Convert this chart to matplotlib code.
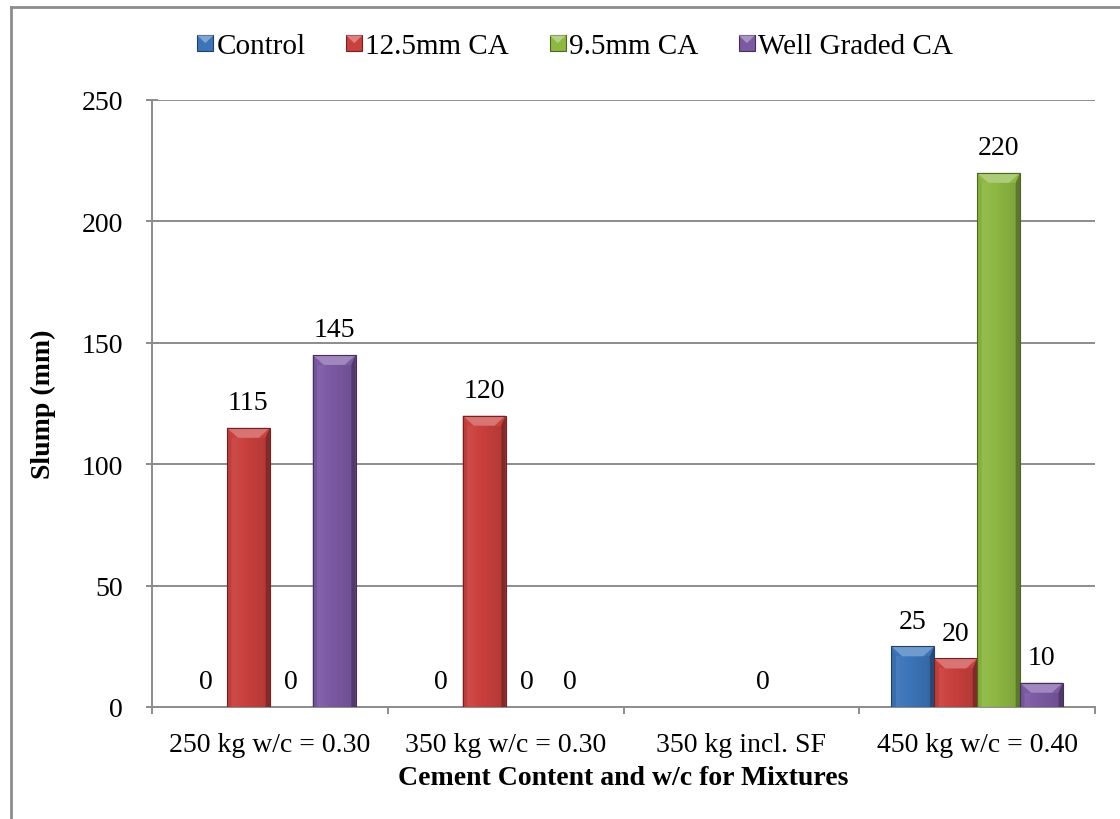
import numpy as np
import matplotlib
matplotlib.use("Agg")
import matplotlib.pyplot as plt
from matplotlib.patches import Polygon, Rectangle, Patch
from matplotlib.lines import Line2D
from matplotlib.legend_handler import HandlerPatch
from matplotlib import colors as mcolors

plt.rcParams['font.family'] = ['Liberation Serif', 'DejaVu Serif']

categories = ['250 kg w/c = 0.30', '350 kg w/c = 0.30', '350 kg incl. SF', '450 kg w/c = 0.40']
series_names = ['Control', '12.5mm CA', '9.5mm CA', 'Well Graded CA']
control = [0, 0, np.nan, 25]
ca_12_5 = [115, 120, np.nan, 20]
ca_9_5 = [0, 0, 0, 220]
well_graded = [145, 0, np.nan, 10]
series_colors = ['#3b74b9', '#c9403d', '#8db842', '#7b59a3']

all_series = [control, ca_12_5, ca_9_5, well_graded]


def shade(c, f):
    r, g, b = mcolors.to_rgb(c)
    if f >= 0:
        return (r + (1 - r) * f, g + (1 - g) * f, b + (1 - b) * f)
    return (r * (1 + f), g * (1 + f), b * (1 + f))


def bevel_bar(ax, x0, x1, y0, y1, color, bx, by):
    # face + bevel facets, like an office-style bevelled column
    h = y1 - y0
    by = min(by, h / 2)
    bxs = bx * 0.4
    ax.add_patch(Rectangle((x0, y0), x1 - x0, h, facecolor=color, edgecolor='none', zorder=3))
    # soft horizontal shading across the face
    n = 12
    for k in range(n):
        t = k / (n - 1)
        f = 0.06 - 0.16 * t
        ax.add_patch(Rectangle((x0 + bxs + (x1 - x0 - 2 * bxs) * k / n, y0),
                               (x1 - x0 - 2 * bxs) / n, h - by, facecolor=shade(color, f),
                               edgecolor='none', zorder=3))
    # left and right strips
    ax.add_patch(Polygon([(x0, y0), (x0, y1), (x0 + bxs, y1 - by), (x0 + bxs, y0)],
                         closed=True, facecolor=shade(color, -0.05), edgecolor='none', zorder=3))
    ax.add_patch(Polygon([(x1, y0), (x1, y1), (x1 - bxs, y1 - by), (x1 - bxs, y0)],
                         closed=True, facecolor=shade(color, -0.35), edgecolor='none', zorder=3))
    # top facet
    ax.add_patch(Polygon([(x0, y1), (x1, y1), (x1 - bx, y1 - by), (x0 + bx, y1 - by)],
                         closed=True, facecolor=shade(color, 0.28), edgecolor='none', zorder=3))
    ax.add_patch(Rectangle((x0, y0), x1 - x0, h, facecolor='none',
                           edgecolor=shade(color, -0.45), linewidth=0.8, zorder=4))


class BevelHandler(HandlerPatch):
    def create_artists(self, legend, orig_handle, xdescent, ydescent, width, height, fontsize, trans):
        c = orig_handle.get_facecolor()
        s = min(width, height)
        x0, y0 = -xdescent + (width - s) / 2, -ydescent
        b = s * 0.3
        arts = [Rectangle((x0, y0), s, s, facecolor=c, edgecolor=shade(c[:3], -0.45), lw=0.8),
                Polygon([(x0, y0 + s), (x0 + s, y0 + s), (x0 + s / 2, y0 + s - b * 1.6)],
                        closed=True, facecolor=shade(c[:3], 0.35), edgecolor='none')]
        for a in arts:
            a.set_transform(trans)
        return arts


fig = plt.figure(figsize=(11.2, 8.2), dpi=100)
ax = fig.add_axes([152 / 1120, 1 - 708 / 820, (1095 - 152) / 1120, (708 - 101) / 820])

n_cat = len(categories)
width = 0.182
ax.set_xlim(0, n_cat)
ax.set_ylim(0, 250)

# pixel -> data conversion for bevel sizes
px_x = n_cat / 943.0
px_y = 250 / 607.0

for j, (vals, col) in enumerate(zip(all_series, series_colors)):
    for i, v in enumerate(vals):
        if np.isnan(v):
            continue
        xc = i + 0.5 + (j - 1.5) * width
        if v > 0:
            bevel_bar(ax, xc - width / 2, xc + width / 2, 0, v, col, 11 * px_x, 10 * px_y)
        ax.annotate(f'{v:g}', (xc, v), xytext=(0, 25), textcoords='offset pixels',
                    ha='center', va='center', fontsize=20, zorder=5)

grid_col = '#8c8c8c'
for yv in [50, 100, 150, 200, 250]:
    ax.axhline(yv, color=grid_col, lw=1.4, zorder=1)

for s in ['top', 'right']:
    ax.spines[s].set_visible(False)
for s in ['left', 'bottom']:
    ax.spines[s].set_color(grid_col)
    ax.spines[s].set_linewidth(1.4)

ax.set_yticks([0, 50, 100, 150, 200, 250])
ax.tick_params(axis='y', direction='inout', length=8, width=1.4, color=grid_col,
               labelsize=20, pad=17)
ax.set_xticks(np.arange(n_cat) + 0.5)
ax.set_xticklabels(categories)
ax.tick_params(axis='x', which='major', length=0, labelsize=20, pad=18)
ax.set_xticks(np.arange(n_cat + 1), minor=True)
ax.tick_params(axis='x', which='minor', direction='out', length=5, width=1.4, color=grid_col)

ax.set_ylabel('Slump (mm)', fontsize=20, fontweight='bold', labelpad=18)
ax.set_xlabel('Cement Content and w/c for Mixtures', fontsize=20, fontweight='bold', labelpad=6)

handles = [Patch(facecolor=c, label=n) for c, n in zip(series_colors, series_names)]
fig.legend(handles=handles, loc='center', bbox_to_anchor=(575 / 1120, 1 - 47 / 820), ncol=4,
           frameon=False, fontsize=21, handlelength=0.55, handleheight=0.55, handletextpad=0.1,
           columnspacing=1.4, handler_map={Patch: BevelHandler()})

# chart area border (left and top edges)
fig.add_artist(Line2D([11 / 1120, 1], [1 - 8 / 820, 1 - 8 / 820], transform=fig.transFigure,
                      color='#8c8c8c', lw=2))
fig.add_artist(Line2D([11 / 1120, 11 / 1120], [0, 1 - 8 / 820], transform=fig.transFigure,
                      color='#8c8c8c', lw=2))

fig.savefig('out.png', dpi=100, facecolor='white')
